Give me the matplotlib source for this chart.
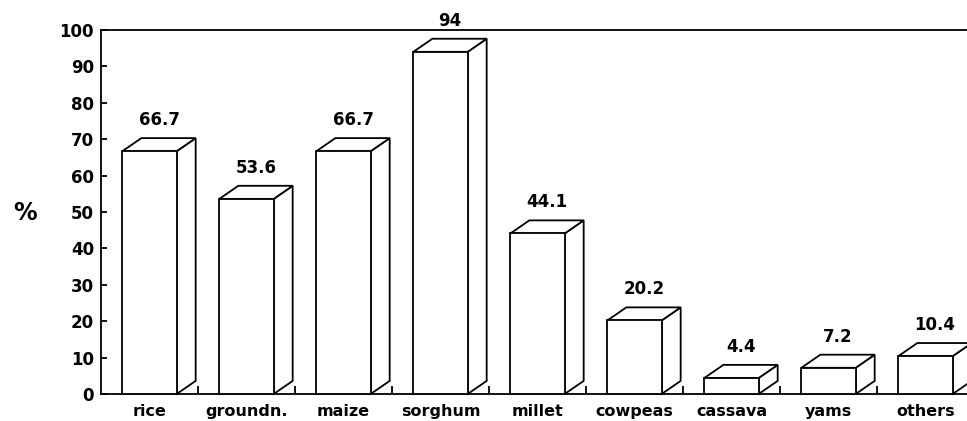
import matplotlib
matplotlib.use("Agg")
from matplotlib import pyplot as plt
from matplotlib.patches import Polygon

crops = ["rice", "groundn.", "maize", "sorghum", "millet",
         "cowpeas", "cassava", "yams", "others"]
values = [66.7, 53.6, 66.7, 94, 44.1, 20.2, 4.4, 7.2, 10.4]
labels = ["66.7", "53.6", "66.7", "94", "44.1", "20.2", "4.4", "7.2", "10.4"]

plt.rcParams['font.family'] = ['DejaVu Sans']
plt.rcParams['font.weight'] = 'bold'

fig = plt.figure(figsize=(9.67, 4.21), dpi=100)
ax = fig.add_axes([101/967, 27/421, 873/967, 364/421])

width = 0.56     # front face width (category units)
dx, dy = 0.196, 3.6  # depth offset of the box
lw = 1.3

for i, v in enumerate(values):
    x0 = i + 0.5 - width / 2
    x1 = x0 + width
    front = Polygon([(x0, 0), (x1, 0), (x1, v), (x0, v)], closed=True,
                    facecolor="white", edgecolor="black", lw=lw,
                    clip_on=False, zorder=3)
    side = Polygon([(x1, 0), (x1 + dx, dy), (x1 + dx, v + dy), (x1, v)],
                   closed=True, facecolor="white", edgecolor="black", lw=lw,
                   clip_on=False, zorder=3)
    top = Polygon([(x0, v), (x0 + dx, v + dy), (x1 + dx, v + dy), (x1, v)],
                  closed=True, facecolor="white", edgecolor="black", lw=lw,
                  clip_on=False, zorder=3)
    for p in (side, top, front):
        ax.add_patch(p)
    ax.text(i + 0.5 + dx / 2, v + dy + 2.5, labels[i], ha="center", va="bottom",
            fontsize=12, color="black")

ax.set_xlim(0, 9)
ax.set_ylim(0, 100)

ax.set_yticks(range(0, 101, 10))
ax.tick_params(axis="y", direction="in", length=4, width=lw, pad=5,
               labelsize=12)

ax.set_xticks([i + 0.5 for i in range(len(crops))])
ax.set_xticklabels(crops, fontsize=11.5)
ax.set_xticks(range(1, len(crops)), minor=True)
ax.tick_params(axis="x", which="major", length=0, pad=7)
ax.tick_params(axis="x", which="minor", direction="in", length=6, width=lw)

for s in ("left", "bottom", "top"):
    ax.spines[s].set_linewidth(lw)
ax.spines["right"].set_visible(False)

fig.text(25/967, 1 - 213/421, "%", fontsize=17, ha="center", va="center")

fig.savefig("out.png", dpi=100)
